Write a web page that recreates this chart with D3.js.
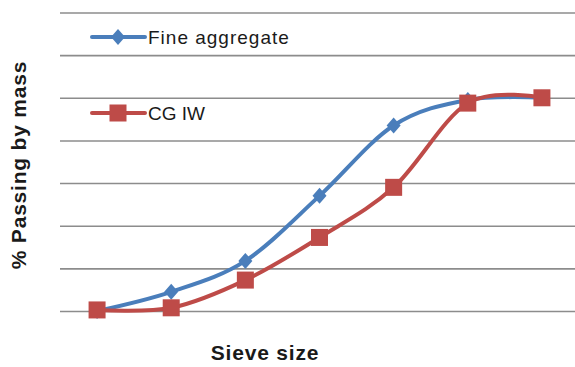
<!DOCTYPE html>
<html>
<head>
<meta charset="utf-8">
<script src="https://cdn.jsdelivr.net/npm/d3@7/dist/d3.min.js"></script>
<style>
  html, body { margin: 0; padding: 0; background: #fff; }
  svg { display: block; }
  text { font-family: "Liberation Sans", Arial, sans-serif; fill: #1a1a1a; }
</style>
</head>
<body>
<svg id="chart" width="575" height="367"></svg>
<script>
// Sieve sizes (mm), smallest to largest
const sieveSizes = ["0.075", "0.15", "0.3", "0.6", "1.18", "2.36", "4.75"];
// Cumulative % passing for each material
const fineAggregate = [0, 9, 23.5, 54, 87, 99, 100];
const cgiw = [0.5, 1.5, 14.5, 34.5, 58, 97.5, 100];
// Gridline values on the percentage axis
const yTicks = [0, 20, 40, 60, 80, 100, 120, 140];

const seriesNames = ["Fine aggregate", "CG IW"];
const seriesColors = ["#4A7EBB", "#BE4B48"];

const svg = d3.select("#chart");
const plotLeft = 60, plotRight = 579, plotTop = 12.5, plotBottom = 311;

const x = d3.scalePoint().domain(sieveSizes).range([plotLeft, plotRight]).padding(0.5);
const y = d3.scaleLinear().domain([0, 140]).range([plotBottom, plotTop]);

// Horizontal gridlines (no tick labels)
const yAxis = d3.axisLeft(y).tickValues(yTicks).tickSize(-(plotRight - plotLeft)).tickFormat("");
const gAxis = svg.append("g").attr("transform", `translate(${plotLeft},0)`).call(yAxis);
gAxis.select(".domain").remove();
gAxis.selectAll(".tick line").attr("stroke", "#8c8c8c").attr("stroke-width", 1.6);

const line = d3.line()
  .x((d, i) => x(sieveSizes[i]))
  .y(d => y(d))
  .curve(d3.curveCardinal.tension(0));

const series = [
  { name: seriesNames[0], values: fineAggregate, color: seriesColors[0], marker: "diamond" },
  { name: seriesNames[1], values: cgiw, color: seriesColors[1], marker: "square" }
];

function drawMarker(g, type, color, cx, cy) {
  if (type === "diamond") {
    g.append("path")
      .attr("d", `M${cx},${cy - 8}L${cx + 7},${cy}L${cx},${cy + 8}L${cx - 7},${cy}Z`)
      .attr("fill", color);
  } else {
    g.append("rect")
      .attr("x", cx - 8.5).attr("y", cy - 8.5)
      .attr("width", 17).attr("height", 17)
      .attr("fill", color);
  }
}

series.forEach(s => {
  const g = svg.append("g");
  g.append("path")
    .datum(s.values)
    .attr("d", line)
    .attr("fill", "none")
    .attr("stroke", s.color)
    .attr("stroke-width", 4)
    .attr("stroke-linejoin", "round");
  s.values.forEach((v, i) => drawMarker(g, s.marker, s.color, x(sieveSizes[i]), y(v)));
});

// Legend
const legendRows = [37, 113];
series.forEach((s, i) => {
  const g = svg.append("g");
  const ly = legendRows[i];
  g.append("line")
    .attr("x1", 92).attr("x2", 145).attr("y1", ly).attr("y2", ly)
    .attr("stroke", s.color).attr("stroke-width", 4).attr("stroke-linecap", "round");
  drawMarker(g, s.marker, s.color, 118, ly);
  g.append("text")
    .attr("x", 148).attr("y", ly + 7)
    .attr("font-size", 19)
    .attr("letter-spacing", i === 0 ? 1 : 0)
    .text(s.name);
});

// Axis titles
svg.append("text")
  .attr("x", 265).attr("y", 360)
  .attr("text-anchor", "middle")
  .attr("font-size", 21).attr("font-weight", "bold")
  .attr("letter-spacing", 0.8)
  .text("Sieve size");

svg.append("text")
  .attr("transform", "translate(26,165) rotate(-90)")
  .attr("text-anchor", "middle")
  .attr("font-size", 21).attr("font-weight", "bold")
  .attr("letter-spacing", 0.8)
  .text("% Passing by mass");
</script>
</body>
</html>
